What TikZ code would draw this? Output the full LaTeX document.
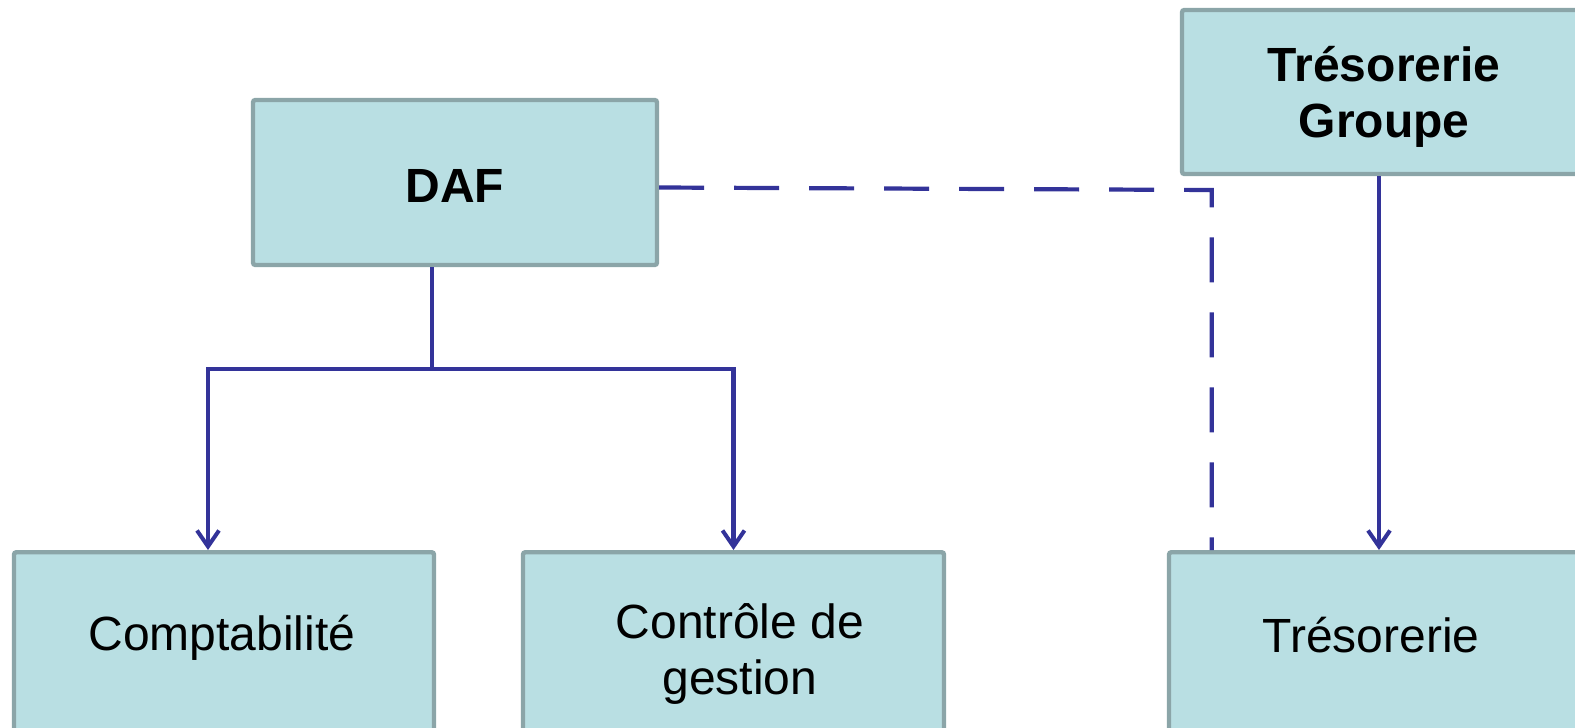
\documentclass[tikz,border=0pt]{standalone}
\usepackage{fontspec}
\setmainfont{Liberation Sans}
\usetikzlibrary{arrows.meta,calc}
\definecolor{boxfill}{RGB}{185,223,227}
\definecolor{boxline}{RGB}{139,165,168}
\definecolor{linkblue}{RGB}{51,51,153}
\begin{document}
\begin{tikzpicture}[x=0.5pt,y=-0.5pt,
  box/.style={draw=boxline,fill=boxfill,line width=2.2pt,rounded corners=1.2pt,inner sep=0pt},
  lbl/.style={font=\fontsize{24}{28}\selectfont,inner sep=0pt,align=center,anchor=base},
  link/.style={draw=linkblue,line width=2.1pt},
  arr/.style={link,-{Straight Barb[length=8pt,width=11pt,line width=2pt]}},
  dlink/.style={link,dash pattern=on 22.5pt off 15pt}]
\useasboundingbox (0,0) rectangle (1575,728);
\clip (0,0) rectangle (1575,728);
% boxes
\node[box,minimum width=202pt,minimum height=82.5pt] (daf) at (455,182.5) {};
\node[box,minimum width=200pt,minimum height=82pt] (grp) at (1382,92) {};
\node[box,minimum width=210pt,minimum height=120pt,anchor=north] (compt) at (224,550) {};
\node[box,minimum width=210.5pt,minimum height=120pt,anchor=north] (ctrl) at (733.5,550) {};
\node[box,minimum width=210pt,minimum height=120pt,anchor=north] (tres) at (1379,550) {};
% texts
\node[lbl,font=\fontsize{24}{28}\selectfont\bfseries] (dafT) at (455,202) {DAF};
\node[lbl,font=\fontsize{24}{28}\selectfont\bfseries] (grpT) at (1384,137) {Trésorerie\\Groupe};
\node[lbl] (comptT) at (222,650) {Comptabilité};
\node[lbl] (ctrlT) at (740,694) {Contrôle de\\gestion};
\node[lbl] (tresT) at (1371,652) {Trésorerie};
% connectors
\coordinate (s) at ([xshift=-11.5pt]daf.south);
\coordinate (j) at (s |- 0,369);
\draw[link] (s) -- (j);
\draw[arr] (j) -| ([xshift=-8pt]compt.north);
\draw[arr] (j) -| (ctrl.north);
\draw[arr] (grp.south -| tres.north) -- (tres.north);
\coordinate (c) at ([xshift=22.5pt]tres.north west |- 0,190);
\draw[dlink] ([yshift=-2.5pt]daf.east) -- (c) -- ([xshift=22.5pt]tres.north west);
\end{tikzpicture}
\end{document}
